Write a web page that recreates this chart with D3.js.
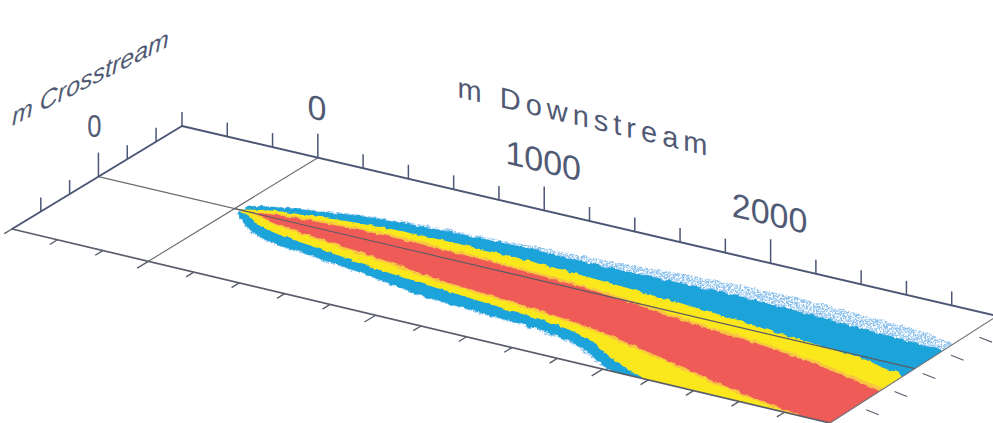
<!DOCTYPE html>
<html>
<head>
<meta charset="utf-8">
<script src="https://cdn.jsdelivr.net/npm/d3@7"></script>
<style>
  html, body { margin: 0; padding: 0; background: #fff; }
  svg { display: block; }
  text { font-family: "Liberation Sans", Arial, Helvetica, sans-serif; fill: #515a74; }
</style>
</head>
<body>
<svg id="chart" width="993" height="423"></svg>
<script>
// Plume concentration bands drawn on an oblique view of the river plane.
// Downstream distance (m) and crosstream offset (m) of each band edge.
const downstreamM  = [30, 60, 100, 150, 200, 300, 400, 600, 800, 1000, 1200, 1400, 1600, 1800, 2000, 2200, 2400, 2600, 2800, 2900, 3000];
const speckleUpper = [-24, -34, -44, -54, -62, -78, -92, -110, -120, -126, -136, -143, -152, -164, -171, -175, -172, -167, -160, -150, -128];
const speckleLower = [14, 33, 54, 72, 89, 109, 116, 132, 152, 176, 187, 196, 207, 234, 296, 346, 376, 396, 411, 416, 421];
const blueUpper    = [-22, -31, -41, -51, -58, -72, -86, -102, -112, -117, -120, -118, -120, -123, -125, -123, -118, -112, -106, -101, -95];
const blueLower    = [12, 30, 50, 68, 85, 105, 112, 128, 148, 172, 183, 192, 202, 228, 290, 340, 370, 390, 405, 410, 415];
const yellowUpper  = [-4, -12, -22, -30, -36, -46, -55, -67, -71, -72, -70, -63, -55, -47, -38, -26, -13, -2, 12, 28, 45];
const yellowLower  = [4, 10, 22, 40, 52, 66, 76, 95, 112, 127, 138, 150, 162, 192, 255, 305, 335, 352, 365, 372, 380];
const amberUpper   = [0, -3, -9, -18, -24, -32, -37, -44, -43, -40, -34, -27, -18, -2, 16, 28, 42, 60, 84, 98, 117];
const amberLower   = [0, 3, 8, 17, 26, 38, 46, 63, 80, 100, 113, 124, 138, 158, 186, 216, 248, 276, 298, 308, 320];
const redUpper     = [0, 0, -5, -12, -17, -24, -28, -34, -33, -30, -24, -17, -8, 8, 26, 38, 52, 70, 95, 110, 130];
const redLower     = [0, 0, 2, 10, 18, 30, 38, 55, 72, 92, 105, 116, 130, 150, 178, 208, 240, 268, 290, 300, 312];

// Axis ticks and labels
const downstreamTicks  = [-600, -400, -200, 0, 200, 400, 600, 800, 1000, 1200, 1400, 1600, 1800, 2000, 2200, 2400, 2600, 2800];
const downstreamLabels = [0, 1000, 2000];
const crosstreamTicks  = [-200, -100, 0, 100, 200];
const crosstreamLabels = [0];
const downstreamTitle  = "m Downstream";
const crosstreamTitle  = "m Crosstream";

// Extent of the plane (m)
const planeD = [-600, 3000];
const planeC = [-290, 300];

// Oblique projection: the plane is a quadrilateral on screen, filled bilinearly
const u = d3.scaleLinear().domain(planeD).range([0, 1]);
const v = d3.scaleLinear().domain(planeC).range([0, 1]);
const corners = { bl: [182, 126], br: [997, 316], fl: [12, 229], fr: [830, 423] };
function P(d, c) {
  const a = u(d), b = v(c);
  const w00 = (1 - a) * (1 - b), w10 = a * (1 - b), w01 = (1 - a) * b, w11 = a * b;
  return [
    w00 * corners.bl[0] + w10 * corners.br[0] + w01 * corners.fl[0] + w11 * corners.fr[0],
    w00 * corners.bl[1] + w10 * corners.br[1] + w01 * corners.fl[1] + w11 * corners.fr[1]
  ];
}
function unit(p, q) {
  const dx = q[0] - p[0], dy = q[1] - p[1], L = Math.hypot(dx, dy);
  return [dx / L, dy / L];
}
const dirD = unit(P(planeD[0], 0), P(planeD[1], 0));   // downstream direction on screen
const dirC = unit(P(0, planeC[0]), P(0, planeC[1]));   // crosstream direction on screen
const skewBack = Math.atan2(dirD[1], dirD[0]) * 180 / Math.PI;

const svg = d3.select("#chart");
const defs = svg.append("defs");

const planePts = [P(planeD[0], planeC[0]), P(planeD[1], planeC[0]), P(planeD[1], planeC[1]), P(planeD[0], planeC[1])];
defs.append("clipPath").attr("id", "plane")
  .append("path").attr("d", d3.line()(planePts) + "Z");

// Ragged band edges
const rough = defs.append("filter").attr("id", "rough")
  .attr("x", "-5%").attr("y", "-5%").attr("width", "110%").attr("height", "110%");
rough.append("feTurbulence").attr("type", "fractalNoise").attr("baseFrequency", "0.15")
  .attr("numOctaves", 2).attr("seed", 7).attr("result", "t");
rough.append("feDisplacementMap").attr("in", "SourceGraphic").attr("in2", "t")
  .attr("scale", 4).attr("xChannelSelector", "R").attr("yChannelSelector", "G");

// Grainy outer fringe
const sp = defs.append("filter").attr("id", "speckle");
sp.append("feTurbulence").attr("type", "fractalNoise").attr("baseFrequency", "0.6")
  .attr("numOctaves", 1).attr("seed", 11).attr("result", "n");
sp.append("feColorMatrix").attr("in", "n").attr("type", "matrix")
  .attr("values", "0 0 0 0 0  0 0 0 0 0  0 0 0 0 0  5 0 0 0 -1.9").attr("result", "m");
sp.append("feComposite").attr("in", "SourceGraphic").attr("in2", "m").attr("operator", "in");

// Reference lines through the origin (centreline repeated on top of the plume)
const gridColor = "#6a6b73";
svg.append("line")
  .attr("x1", P(0, planeC[0])[0]).attr("y1", P(0, planeC[0])[1])
  .attr("x2", P(0, planeC[1])[0]).attr("y2", P(0, planeC[1])[1])
  .attr("stroke", gridColor).attr("stroke-width", 1.1);
svg.append("line")
  .attr("x1", P(planeD[0], 0)[0]).attr("y1", P(planeD[0], 0)[1])
  .attr("x2", P(planeD[1], 0)[0]).attr("y2", P(planeD[1], 0)[1])
  .attr("stroke", gridColor).attr("stroke-width", 1.1);

// Plume bands, outermost first
const bands = [
  { upper: speckleUpper, lower: speckleLower, fill: "#8fc3ee", filter: "url(#speckle)" },
  { upper: blueUpper,    lower: blueLower,    fill: "#1ea3d9" },
  { upper: yellowUpper,  lower: yellowLower,  fill: "#fbe81f" },
  { upper: amberUpper,   lower: amberLower,   fill: "#f8c640" },
  { upper: redUpper,     lower: redLower,     fill: "#ef5c58" }
];
const bandLine = d3.line().curve(d3.curveCatmullRom.alpha(0.5));
const plumeClip = svg.append("g").attr("clip-path", "url(#plane)");
const plume = plumeClip.append("g").attr("filter", "url(#rough)");
bands.forEach(b => {
  const top = downstreamM.map((d, i) => P(d, b.upper[i]));
  const bot = downstreamM.map((d, i) => P(d, b.lower[i])).reverse();
  plume.append("path")
    .attr("d", bandLine(top.concat(bot)) + "Z")
    .attr("fill", b.fill)
    .attr("filter", b.filter || null);
});

// Centreline over the plume
plumeClip.append("line")
  .attr("x1", P(0, 0)[0]).attr("y1", P(0, 0)[1])
  .attr("x2", P(planeD[1], 0)[0]).attr("y2", P(planeD[1], 0)[1])
  .attr("stroke", "#5b5a63").attr("stroke-width", 1.1);

// Plane edges
const axisColor = "#4c5675";
function edge(p, q, color, w) {
  svg.append("line").attr("x1", p[0]).attr("y1", p[1]).attr("x2", q[0]).attr("y2", q[1])
    .attr("stroke", color).attr("stroke-width", w).attr("stroke-linecap", "round");
}
edge(P(planeD[0], planeC[0]), P(planeD[1], planeC[0]), axisColor, 2);
edge(P(planeD[0], planeC[0]), P(planeD[0], planeC[1]), axisColor, 2);
edge(P(planeD[0], planeC[1]), P(planeD[1], planeC[1]), "#5a5d6b", 1.7);
edge(P(planeD[1], planeC[0]), P(planeD[1], planeC[1]), "#6e7079", 1.1);

// Vertical ticks on the back edge (downstream) and the left edge (crosstream)
const ticks = svg.append("g").attr("stroke", axisColor).attr("stroke-width", 1.5);
downstreamTicks.forEach(d => {
  const p = P(d, planeC[0]);
  const len = downstreamLabels.includes(d) ? 24 : 14;
  ticks.append("line").attr("x1", p[0]).attr("y1", p[1]).attr("x2", p[0]).attr("y2", p[1] - len);
});
crosstreamTicks.forEach(c => {
  const p = P(planeD[0], c);
  const len = crosstreamLabels.includes(c) ? 24 : 14;
  ticks.append("line").attr("x1", p[0]).attr("y1", p[1]).attr("x2", p[0]).attr("y2", p[1] - len);
});

// In-plane ticks on the front edge (pointing outward, crosstream) and right edge (downstream)
const flat = svg.append("g").attr("stroke", "#5a5d6b").attr("stroke-width", 1.4);
downstreamTicks.forEach(d => {
  const p = P(d, planeC[1]);
  const len = downstreamLabels.includes(d) ? 13 : 9;
  flat.append("line").attr("x1", p[0]).attr("y1", p[1])
    .attr("x2", p[0] + dirC[0] * len).attr("y2", p[1] + dirC[1] * len);
});
crosstreamTicks.forEach(c => {
  const p = P(planeD[1], c);
  flat.append("line").attr("stroke-width", 1.1)
    .attr("x1", p[0] + dirD[0] * 8).attr("y1", p[1] + dirD[1] * 8 + 3)
    .attr("x2", p[0] + dirD[0] * 21).attr("y2", p[1] + dirD[1] * 21 + 5);
});

// Tick labels standing on the back edge
downstreamLabels.forEach(d => {
  const p = P(d, planeC[0]);
  svg.append("text")
    .attr("transform", `translate(${p[0] - 1},${p[1] - 38}) skewY(${skewBack})`)
    .attr("text-anchor", "middle").attr("font-size", 34)
    .text(d3.format("d")(d));
});
crosstreamLabels.forEach(c => {
  const p = P(planeD[0], c);
  svg.append("text")
    .attr("transform", `translate(${p[0] - 4},${p[1] - 40}) scale(0.8,1)`)
    .attr("text-anchor", "middle").attr("font-size", 32)
    .text(d3.format("d")(c));
});

// Axis titles
const tD = P(1180, planeC[0]);
svg.append("text")
  .attr("transform", `translate(${tD[0]},${tD[1] - 93}) skewY(${skewBack})`)
  .attr("text-anchor", "middle").attr("font-size", 29).attr("letter-spacing", 5)
  .text(downstreamTitle);
const tC = P(planeD[0], planeC[1]);
svg.append("text")
  .attr("transform", `translate(${tC[0]},${tC[1] - 103}) skewY(-27)`)
  .attr("text-anchor", "start").attr("font-size", 25).attr("font-style", "italic")
  .text(crosstreamTitle);
</script>
</body>
</html>
